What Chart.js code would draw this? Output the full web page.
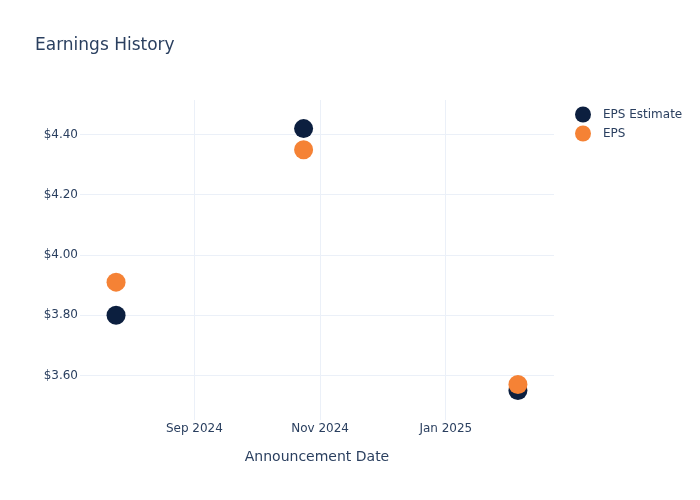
<!DOCTYPE html>
<html>
<head>
<meta charset="utf-8">
<title>Earnings History</title>
<script src="https://cdn.jsdelivr.net/npm/chart.js@4.4.1/dist/chart.umd.min.js"></script>
<style>
    body { margin: 0; background: #fff; font-family: "DejaVu Sans", Verdana, sans-serif; }
    #wrap { position: relative; width: 700px; height: 500px; }
    #title { position: absolute; left: 35px; top: 34px; font-size: 17px; line-height: 20px; color: #2a3f5f; }
</style>
</head>
<body>
<div id="wrap">
    <canvas id="earnings" width="700" height="500"></canvas>
    <div id="title">Earnings History</div>
</div>
<script>
var announceDates = ['2024-07-25', '2024-10-24', '2025-02-05'];
var epsEstimate = [3.80, 4.42, 3.55];
var epsActual = [3.91, 4.35, 3.57];
var xTickDates = ['2024-09-01', '2024-11-01', '2025-01-01'];
var xTickLabels = ['Sep 2024', 'Nov 2024', 'Jan 2025'];
var yTicks = [3.6, 3.8, 4.0, 4.2, 4.4];
var xRange = ['2024-07-07T12:00:00', '2025-02-22T12:00:00'];
var yRange = [3.452, 4.515];

var textColor = '#2a3f5f';
var gridColor = '#ebf0f8';

var toTime = function(s) { return Date.parse(s.length > 10 ? s + 'Z' : s + 'T00:00:00Z'); };
var toPoints = function(values) {
    return announceDates.map((d, i) => ({ x: toTime(d), y: values[i] }));
};

// legend drawn by hand so it sits where the reference has it
var sideLegend = {
    id: 'sideLegend',
    afterDraw(chart) {
        let ctx = chart.ctx;
        ctx.save();
        ctx.font = '12px "DejaVu Sans", sans-serif';
        ctx.textBaseline = 'middle';
        chart.data.datasets.forEach((ds, i) => {
            let y = 114.5 + i * 19;
            ctx.beginPath();
            ctx.arc(583, y, 8, 0, Math.PI * 2);
            ctx.fillStyle = ds.backgroundColor;
            ctx.fill();
            ctx.fillStyle = textColor;
            ctx.fillText(ds.label, 603, y);
        });
        ctx.restore();
    }
};

Chart.defaults.font.family = '"DejaVu Sans", Verdana, sans-serif';
Chart.defaults.font.size = 12;
Chart.defaults.color = textColor;

new Chart(document.getElementById('earnings'), {
    type: 'scatter',
    data: {
        datasets: [
            {
                label: 'EPS Estimate',
                data: toPoints(epsEstimate),
                backgroundColor: '#0c1f3f',
                borderColor: '#0c1f3f',
                borderWidth: 0,
                pointRadius: 9.5,
                pointHoverRadius: 9.5,
                order: 1
            },
            {
                label: 'EPS',
                data: toPoints(epsActual),
                backgroundColor: '#f58235',
                borderColor: '#f58235',
                borderWidth: 0,
                pointRadius: 9.5,
                pointHoverRadius: 9.5,
                order: 0
            }
        ]
    },
    options: {
        responsive: false,
        animation: false,
        clip: false,
        layout: { padding: { top: 100, right: 146, left: 0, bottom: 0 } },
        plugins: {
            legend: { display: false },
            tooltip: { enabled: false }
        },
        scales: {
            x: {
                type: 'linear',
                min: toTime(xRange[0]),
                max: toTime(xRange[1]),
                afterBuildTicks: (scale) => { scale.ticks = xTickDates.map(d => ({ value: toTime(d) })); },
                afterFit: (scale) => { scale.height = 80; },
                border: { display: false },
                grid: { color: gridColor, drawTicks: false },
                ticks: {
                    padding: 2,
                    maxRotation: 0,
                    callback: (value, index) => xTickLabels[index]
                },
                title: {
                    display: true,
                    text: 'Announcement Date',
                    font: { size: 14 },
                    padding: { top: 0, bottom: 34 }
                }
            },
            y: {
                min: yRange[0],
                max: yRange[1],
                afterBuildTicks: (scale) => { scale.ticks = yTicks.map(v => ({ value: v })); },
                afterFit: (scale) => { scale.width = 80; },
                border: { display: false },
                grid: { color: gridColor, drawTicks: false },
                ticks: {
                    padding: 2,
                    callback: (value) => '$' + value.toFixed(2)
                }
            }
        }
    },
    plugins: [sideLegend]
});
</script>
</body>
</html>
